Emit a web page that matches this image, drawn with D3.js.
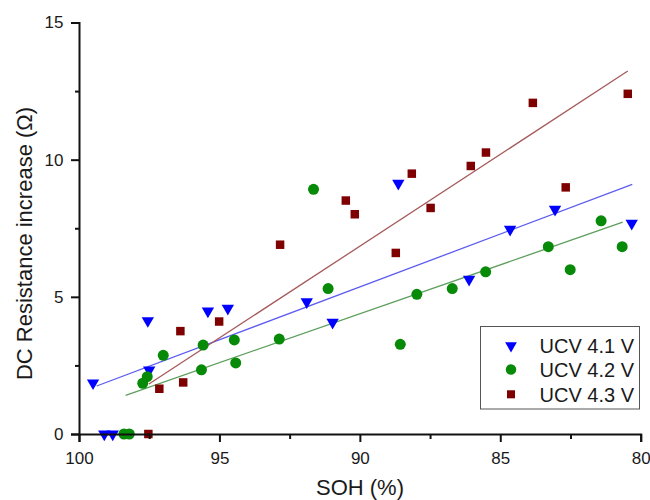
<!DOCTYPE html>
<html>
<head>
<meta charset="utf-8">
<script src="https://cdn.jsdelivr.net/npm/d3@7"></script>
<style>
  body { margin: 0; background: #fff; }
  svg { display: block; font-family: Arial, "Liberation Sans", sans-serif; }
</style>
</head>
<body>
<svg id="chart" width="650" height="500"></svg>
<script>
// SOH (%) and DC resistance increase (Ohm) for each upper cut-off voltage
var soh41 = [99.50, 99.10, 98.80, 97.55, 97.50, 95.41, 94.70, 91.89, 90.97, 88.63, 86.11, 84.65, 83.05, 80.32];
var res41 = [1.86, 0, 0, 4.13, 2.33, 4.48, 4.58, 4.82, 4.07, 9.14, 5.64, 7.46, 8.19, 7.68];

var soh42 = [98.40, 98.21, 97.73, 97.57, 97.00, 95.58, 95.64, 94.47, 94.42, 92.87, 91.65, 91.13, 88.56, 87.97, 86.71, 85.52, 83.29, 82.51, 81.41, 80.66];
var res42 = [0, 0, 1.85, 2.09, 2.87, 3.24, 2.34, 3.43, 2.59, 3.46, 8.92, 5.30, 3.27, 5.09, 5.30, 5.91, 6.83, 5.99, 7.77, 6.83];

var soh43 = [97.53, 97.14, 96.29, 96.39, 95.01, 92.84, 90.50, 90.18, 88.72, 88.15, 87.48, 86.05, 85.51, 83.84, 82.67, 80.46];
var res43 = [0, 1.65, 1.88, 3.75, 4.10, 6.90, 8.51, 8.01, 6.60, 9.49, 8.24, 9.77, 10.26, 12.07, 8.99, 12.40];

// linear fit lines, [SOH, resistance] at both ends
var fit41 = [[99.37, 1.75], [80.30, 9.10]];
var fit42 = [[98.34, 1.41], [80.64, 7.72]];
var fit43 = [[97.51, 1.82], [80.46, 13.23]];

var seriesNames = ["UCV 4.1 V", "UCV 4.2 V", "UCV 4.3 V"];
var xTicks = [100, 95, 90, 85, 80];
var xMinor = [97.5, 92.5, 87.5, 82.5];
var yTicks = [0, 5, 10, 15];
var yMinor = [2.5, 7.5, 12.5];

var series = [
  {name: seriesNames[0], x: soh41, y: res41, fit: fit41, color: "#0000ff", fitColor: "#5c5cf0", shape: d3.symbolTriangle, size: 66, flip: true},
  {name: seriesNames[1], x: soh42, y: res42, fit: fit42, color: "#078a07", fitColor: "#5c9e5c", shape: d3.symbolCircle, size: 95, flip: false},
  {name: seriesNames[2], x: soh43, y: res43, fit: fit43, color: "#7f0000", fitColor: "#a65a5a", shape: d3.symbolSquare, size: 72, flip: false}
];

var svg = d3.select("#chart");

var x = d3.scaleLinear().domain([100, 80]).range([79, 640.7]);
var y = d3.scaleLinear().domain([0, 15]).range([434, 22.5]);

// fit lines under markers
var line = d3.line().x(d => x(d[0])).y(d => y(d[1]));
svg.append("g")
  .selectAll("path")
  .data(series)
  .join("path")
    .attr("d", d => line(d.fit))
    .attr("fill", "none")
    .attr("stroke", d => d.fitColor)
    .attr("stroke-width", 1.3);

// markers
series.forEach(function(s) {
  var sym = d3.symbol().type(s.shape).size(s.size);
  svg.append("g")
    .selectAll("path")
    .data(s.x.map((v, i) => [v, s.y[i]]))
    .join("path")
      .attr("d", sym)
      .attr("transform", d => `translate(${x(d[0])},${y(d[1])})` + (s.flip ? " rotate(180)" : ""))
      .attr("fill", s.color);
});

// axes
svg.append("g")
  .attr("transform", "translate(0,434)")
  .call(d3.axisBottom(x).tickValues(xTicks).tickSize(8).tickPadding(10).tickFormat(d3.format("d")));
svg.append("g")
  .attr("transform", "translate(0,434)")
  .call(d3.axisBottom(x).tickValues(xMinor).tickSize(5).tickFormat(""))
  .call(g => g.select(".domain").remove());

svg.append("g")
  .attr("transform", "translate(79,0)")
  .call(d3.axisLeft(y).tickValues(yTicks).tickSize(8).tickPadding(7.5).tickFormat(d3.format("d")));
svg.append("g")
  .attr("transform", "translate(79,0)")
  .call(d3.axisLeft(y).tickValues(yMinor).tickSize(4).tickFormat(""))
  .call(g => g.select(".domain").remove());

svg.selectAll(".domain").attr("stroke", "#111").attr("stroke-width", 2);
svg.selectAll(".tick line").attr("stroke", "#111").attr("stroke-width", 2);
svg.selectAll(".tick text")
  .attr("font-size", "17px")
  .attr("font-family", "Arial, 'Liberation Sans', sans-serif")
  .attr("fill", "#1a1a1a");

// axis titles
svg.append("text")
  .attr("x", 360)
  .attr("y", 495)
  .attr("text-anchor", "middle")
  .attr("font-size", "22px")
  .attr("fill", "#1a1a1a")
  .text("SOH (%)");

svg.append("text")
  .attr("transform", "translate(31.5,243.5) rotate(-90)")
  .attr("text-anchor", "middle")
  .attr("font-size", "22px")
  .attr("fill", "#1a1a1a")
  .text("DC Resistance increase (Ω)");

// legend
var legend = svg.append("g");
legend.append("rect")
  .attr("x", 480.5)
  .attr("y", 326.5)
  .attr("width", 159)
  .attr("height", 82.5)
  .attr("fill", "#fff")
  .attr("stroke", "#555")
  .attr("stroke-width", 1);

var rowY = [345.7, 369.5, 394.3];
series.forEach(function(s, i) {
  var sym = d3.symbol().type(s.shape).size(s.size * 0.9);
  legend.append("path")
    .attr("d", sym)
    .attr("transform", `translate(511,${rowY[i]})` + (s.flip ? " rotate(180)" : ""))
    .attr("fill", s.color);
  legend.append("text")
    .attr("x", 539.5)
    .attr("y", rowY[i])
    .attr("dy", "0.36em")
    .attr("font-size", "20px")
    .attr("fill", "#1a1a1a")
    .text(s.name);
});
</script>
</body>
</html>
